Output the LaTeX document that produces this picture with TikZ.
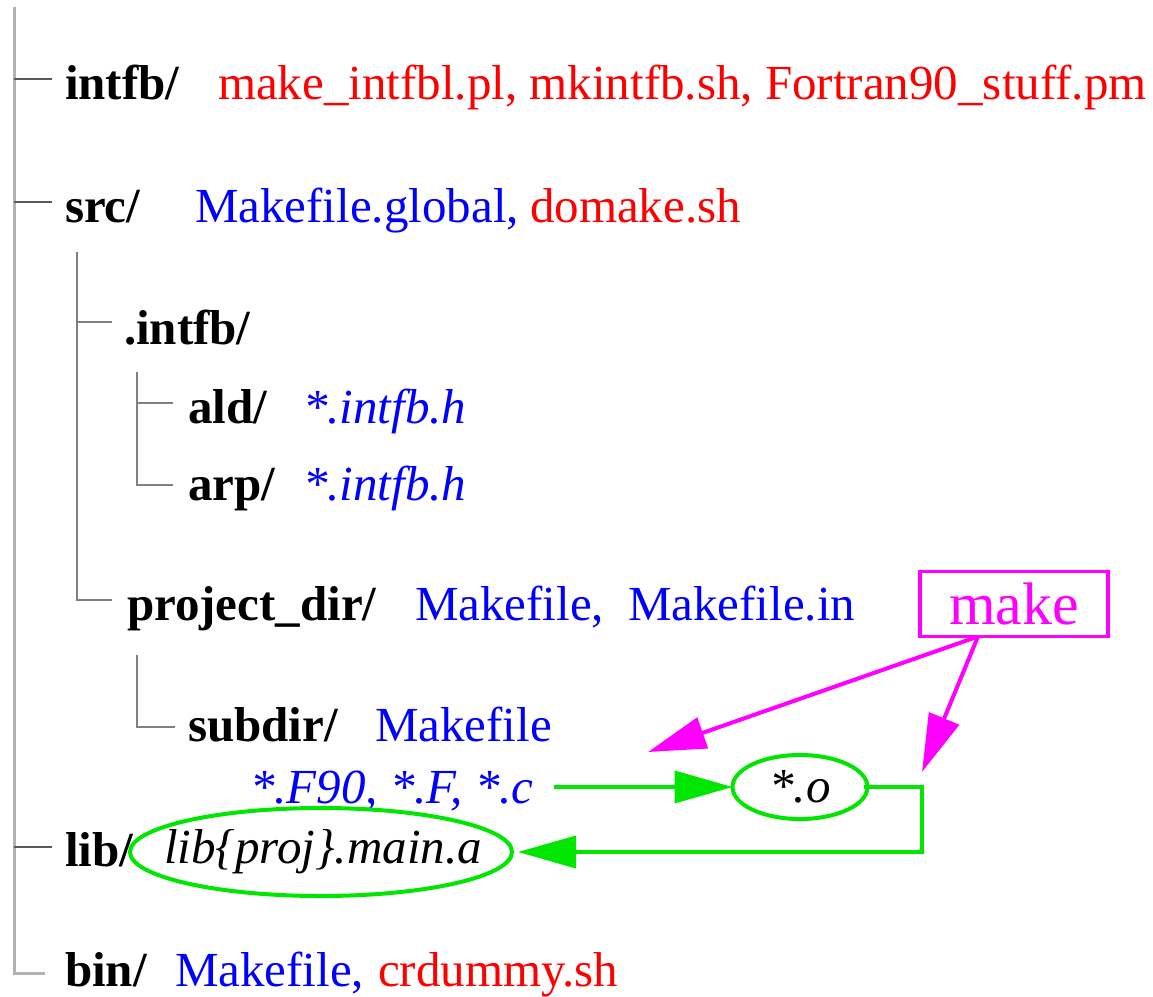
\documentclass[tikz,border=0pt]{standalone}
\usepackage{fontspec}
\setmainfont{Liberation Serif}
\usetikzlibrary{arrows.meta,shapes.geometric}
\definecolor{tred}{RGB}{255,0,0}
\definecolor{tblue}{RGB}{0,0,255}
\definecolor{tmag}{RGB}{255,0,255}
\definecolor{tgreen}{RGB}{0,230,0}
\begin{document}
\begin{tikzpicture}[x=1pt,y=-1pt,
  every node/.style={inner sep=0pt,outer sep=0pt,font=\fontsize{49}{58}\selectfont},
  lbl/.style={anchor=base west},
  dir/.style={lbl,font=\fontsize{49}{58}\selectfont\bfseries},
  red/.style={lbl,text=tred},
  blu/.style={lbl,text=tblue},
  trunk/.style={draw=black!30,line width=3pt},
  twig/.style={draw=black!65,line width=1.5pt},
  branch/.style={draw=black!50,line width=1.5pt},
  gell/.style={ellipse,draw=tgreen,line width=4pt,inner sep=0pt},
  garrow/.style={draw=tgreen,line width=4pt,-{Triangle[length=58pt,width=32pt]}},
  marrow/.style={draw=tmag,line width=4pt,-{Triangle[length=58pt,width=32pt]}}
]
\useasboundingbox (0,0) rectangle (1153,996);
% tree lines
\draw[trunk] (14,7) -- (14,973) -- (45,973);
\draw[twig] (14,79) -- (52,79);
\draw[twig] (14,202) -- (52,202);
\draw[twig] (14,847) -- (52,847);
\draw[branch] (77,252) -- (77,600) -- (112,600);
\draw[branch] (77,322) -- (112,322);
\draw[branch] (137,372) -- (137,485) -- (173,485);
\draw[branch] (137,403) -- (173,403);
\draw[branch] (137,655) -- (137,727) -- (175,727);
% texts
\node[dir] (intfb) at (65,99) {intfb/};
\node[red] (intfbf) at (218,99) {make\_intfbl.pl, mkintfb.sh, Fortran90\_stuff.pm};
\node[dir] (src) at (65,222) {src/};
\node[blu] (srcmk) at (195,222) {Makefile.global,};
\node[red] (srcsh) at (530,222) {domake.sh};
\node[dir] (dintfb) at (124,344) {.intfb/};
\node[dir] (ald) at (188,423) {ald/};
\node[blu] (aldh) at (303,423) {\itshape *.intfb.h};
\node[dir] (arp) at (188,500) {arp/};
\node[blu] (arph) at (303,500) {\itshape *.intfb.h};
\node[dir] (proj) at (127,620) {project\_dir/};
\node[blu] (projmk) at (415,620) {Makefile,};
\node[blu] (projin) at (628,620) {Makefile.in};
\node[dir] (subdir) at (188,741) {subdir/};
\node[blu] (submk) at (375,741) {Makefile};
\node[blu] (srcs) at (250,803) {\itshape *.F90, *.F, *.c};
\node[dir] (lib) at (65,866) {lib/};
\node[gell,minimum width=382pt,minimum height=88pt] (liba) at (321,852) {\makebox[0pt]{\itshape\hspace{4pt}lib\{proj\}.main.a}};
\node[dir] (bin) at (65,986) {bin/};
\node[blu] (binmk) at (175,986) {Makefile,};
\node[red] (binsh) at (378,986) {crdummy.sh};
\node[gell,minimum width=135pt,minimum height=64pt] (obj) at (800,787) {\makebox[0pt]{\itshape *.o}};
\node[draw=tmag,line width=3.5pt,text=tmag,minimum width=188pt,minimum height=65pt,font=\fontsize{60}{70}\selectfont] (make) at (1014,604) {make};
% connectors
\coordinate (bend) at (922,787);
\coordinate (t1) at (648,752);
\coordinate (t2) at (922,772);
\draw[garrow] ([xshift=20pt]srcs.east |- obj.west) -- (obj.west);
\draw[garrow,shorten >=6pt] ([xshift=-4pt]obj.east) -- (bend) |- (liba.east);
\draw[marrow] ([xshift=-36pt]make.south) -- (t1);
\draw[marrow] ([xshift=-36pt]make.south) -- (t2);
\end{tikzpicture}
\end{document}
